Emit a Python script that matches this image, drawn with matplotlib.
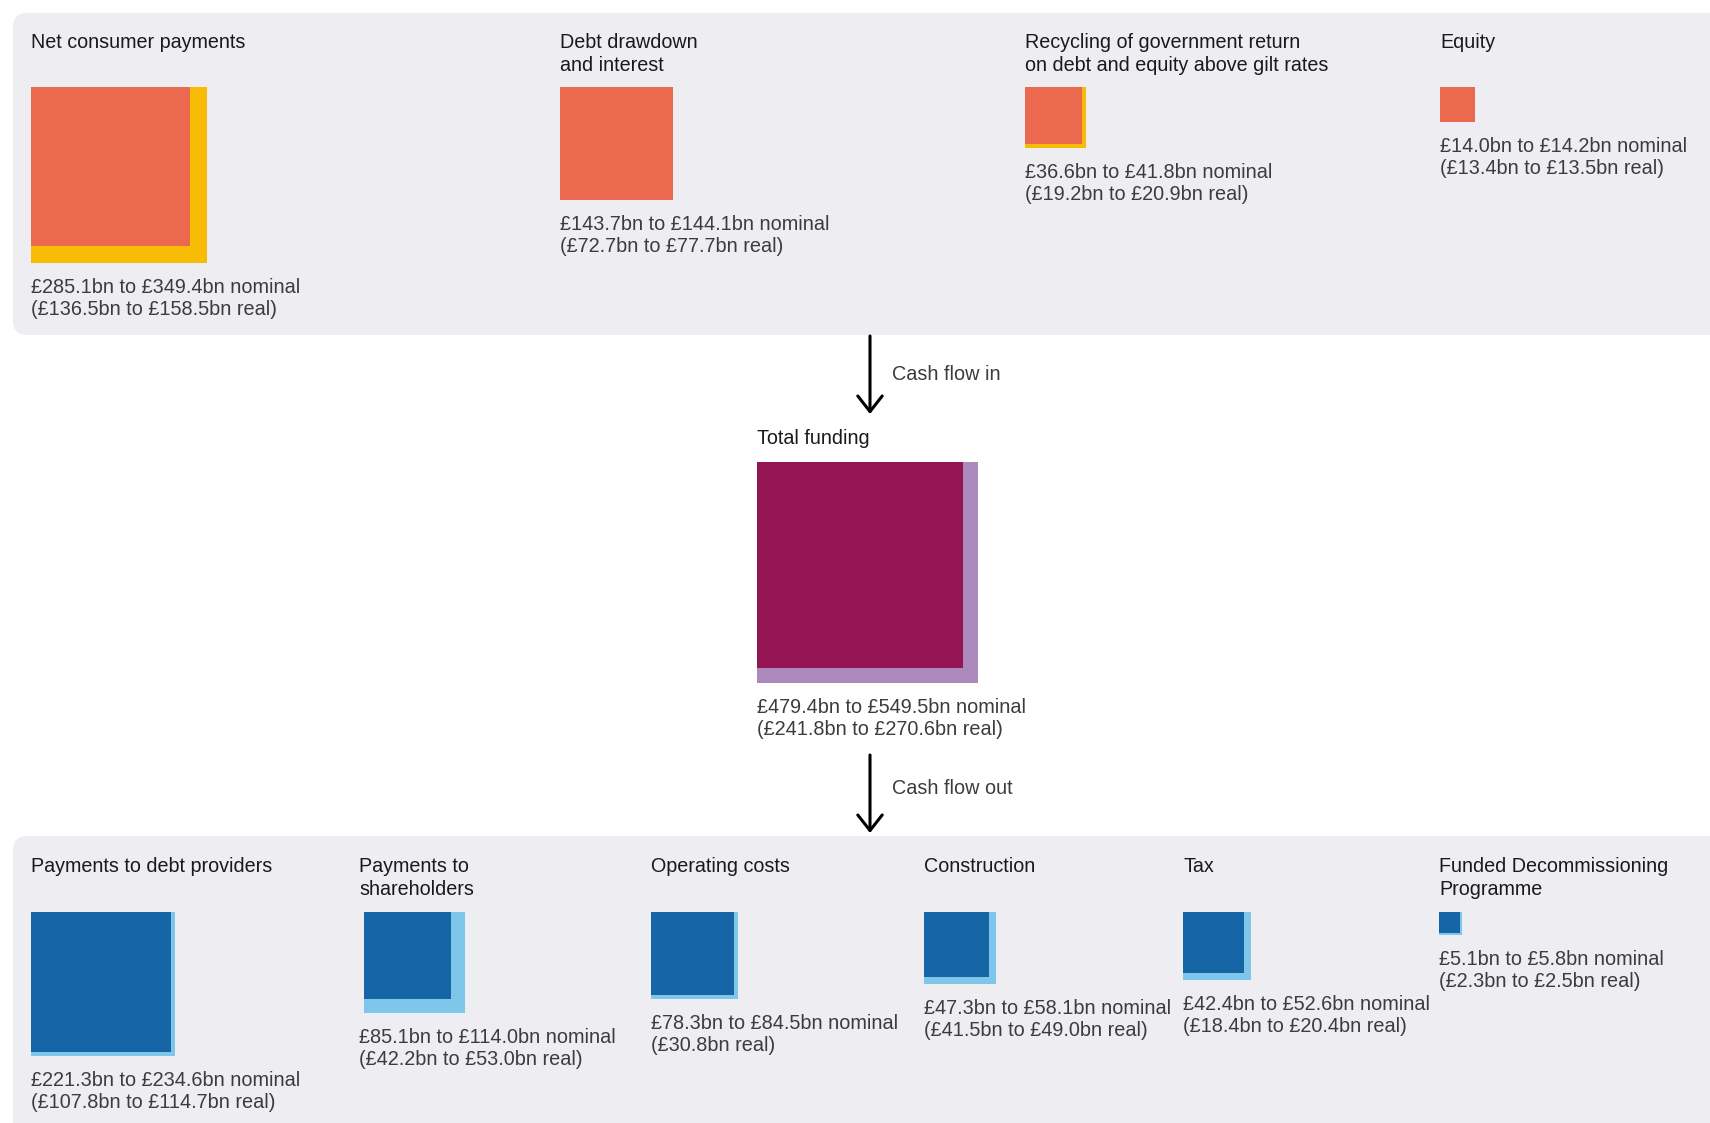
import matplotlib.pyplot as plt
from matplotlib.patches import Rectangle, FancyBboxPatch, FancyArrowPatch
import numpy as np

# sources of cash (nominal low/high, real low/high, £bn)
in_names = ['Net consumer payments', 'Debt drawdown\nand interest',
            'Recycling of government return\non debt and equity above gilt rates', 'Equity']
in_low = [285.1, 143.7, 36.6, 14.0]
in_high = [349.4, 144.1, 41.8, 14.2]
in_real_low = [136.5, 72.7, 19.2, 13.4]
in_real_high = [158.5, 77.7, 20.9, 13.5]

# total funding
tot_name = 'Total funding'
tot_low = 479.4
tot_high = 549.5
tot_real_low = 241.8
tot_real_high = 270.6

# uses of cash
out_names = ['Payments to debt providers', 'Payments to\nshareholders', 'Operating costs',
             'Construction', 'Tax', 'Funded Decommissioning\nProgramme']
out_low = [221.3, 85.1, 78.3, 47.3, 42.4, 5.1]
out_high = [234.6, 114.0, 84.5, 58.1, 52.6, 5.8]
out_real_low = [107.8, 42.2, 30.8, 41.5, 18.4, 2.3]
out_real_high = [114.7, 53.0, 30.8, 49.0, 20.4, 2.5]

plt.rcParams['font.family'] = ['Liberation Sans', 'DejaVu Sans']

W, H = 1710, 1123
fig = plt.figure(figsize=(W / 100, H / 100), dpi=100)
ax = fig.add_axes([0, 0, 1, 1])
ax.set_xlim(0, W)
ax.set_ylim(H, 0)
ax.axis('off')

K = 9.42  # px per sqrt(£bn), so square area follows value
PANEL = '#ededf2'
TITLE_C = '#1a1a1a'
VAL_C = '#3c3c3c'
FS_T = 14.2
FS_V = 14.3


def fmt(a, b, tail):
    if a == b:
        return '£%.1fbn %s' % (a, tail)
    return '£%.1fbn to £%.1fbn %s' % (a, b, tail)


def block(x, ytitle, ysq, name, lo, hi, rlo, rhi, c_in, c_out, dx=0):
    ax.text(x, ytitle, name, fontsize=FS_T, color=TITLE_C, va='top', ha='left',
            linespacing=1.28)
    s_hi = K * np.sqrt(hi)
    s_lo = K * np.sqrt(lo)
    ax.add_patch(Rectangle((x + dx, ysq), s_hi, s_hi, color=c_out, lw=0))
    ax.add_patch(Rectangle((x + dx, ysq), s_lo, s_lo, color=c_in, lw=0))
    ax.text(x, ysq + s_hi + 15, fmt(lo, hi, 'nominal') + '\n(' + fmt(rlo, rhi, 'real') + ')',
            fontsize=FS_V, color=VAL_C, va='top', ha='left', linespacing=1.2)


# background panels
ax.add_patch(FancyBboxPatch((13, 13), 1800, 322, boxstyle='round,pad=0,rounding_size=14',
                            fc=PANEL, ec='none'))
ax.add_patch(FancyBboxPatch((13, 836), 1800, 400, boxstyle='round,pad=0,rounding_size=14',
                            fc=PANEL, ec='none'))

in_x = [31, 560, 1025, 1440]
for i in range(len(in_names)):
    block(in_x[i], 33, 87, in_names[i], in_low[i], in_high[i],
          in_real_low[i], in_real_high[i], '#eb6a4f', '#f9bc06')

block(757, 429, 462, tot_name, tot_low, tot_high, tot_real_low, tot_real_high,
      '#951554', '#ad8abe')

out_x = [31, 359, 651, 924, 1183, 1439]
out_dx = [0, 5, 0, 0, 0, 0]
for i in range(len(out_names)):
    block(out_x[i], 857, 912, out_names[i], out_low[i], out_high[i],
          out_real_low[i], out_real_high[i], '#1565a7', '#7fc7ea', dx=out_dx[i])

# flow arrows
for y0, y1, lab, ylab in [(336, 414, 'Cash flow in', 374), (755, 833, 'Cash flow out', 788)]:
    ax.add_patch(FancyArrowPatch((870, y0), (870, y1), arrowstyle='->,head_length=7,head_width=5.5',
                                 color='black', lw=2.2, mutation_scale=1.6,
                                 shrinkA=0, shrinkB=0))
    ax.text(892, ylab, lab, fontsize=FS_V, color=VAL_C, va='center', ha='left')

fig.savefig('out.png', dpi=100, facecolor='white')
